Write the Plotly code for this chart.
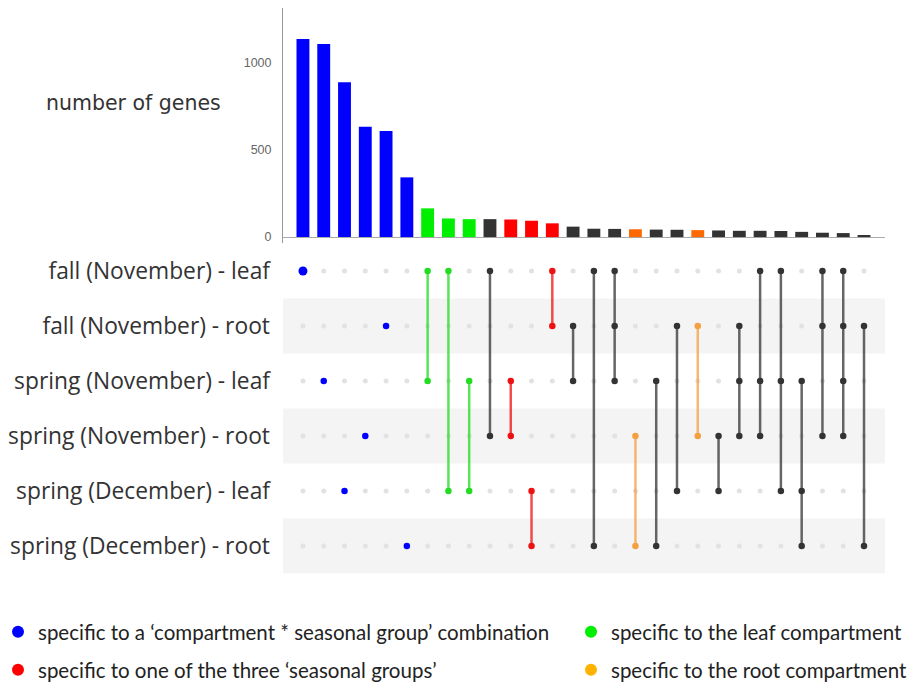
import plotly.graph_objects as go

# ---------------- data ----------------
sets = ["fall (November) - leaf", "fall (November) - root",
        "spring (November) - leaf", "spring (November) - root",
        "spring (December) - leaf", "spring (December) - root"]

members = [[0], [2], [4], [3], [1], [5],
           [0, 2], [0, 4], [2, 4], [0, 3], [2, 3], [4, 5], [0, 1], [1, 2],
           [0, 5], [0, 1, 2], [3, 5], [2, 5], [1, 4], [1, 3], [3, 4],
           [1, 2, 3], [0, 2, 3], [0, 2, 4], [2, 4, 5], [0, 1, 3],
           [0, 1, 2, 3], [1, 5]]

counts = [1138, 1109, 889, 634, 609, 343, 165, 107, 103, 103, 101, 94, 79,
          60, 48, 47, 45, 43, 42, 40, 38, 36, 36, 35, 30, 25, 23, 12]

groups = (["combo"] * 6 + ["leaf"] * 3 + ["other"] + ["season"] * 3 +
          ["other", "other", "other", "root", "other", "other", "root"] +
          ["other"] * 8 + ["root"])

legend_labels = {
    "combo": "specific to a \u2018compartment * seasonal group\u2019 combination",
    "leaf": "specific to the leaf compartment",
    "season": "specific to one of the three \u2018seasonal groups\u2019",
    "root": "specific to the root compartment",
}
legend_order = ["combo", "leaf", "season", "root"]

bar_tickvals = [0, 500, 1000]

# ---------------- styles ----------------
bar_colors = {"combo": "#0000FF", "leaf": "#00EE00", "season": "#FF0000",
              "other": "#333333", "root": "#FF6A00"}
dot_colors = {"combo": "#0000FF", "leaf": "#22DD22", "season": "#EE1111",
              "other": "#333333", "root": "#F5A040"}
legend_colors = {"combo": "#0000FF", "leaf": "#00EE00", "season": "#FF0000",
                 "root": "#FFB300"}

W, H = 916, 685
def px_x(p): return p / W
def px_y(p): return 1 - p / H

n = len(counts)
xs = list(range(n))

fig = go.Figure()

# bars
fig.add_trace(go.Bar(
    x=xs, y=counts, width=0.62,
    marker=dict(color=[bar_colors[g] for g in groups], line=dict(width=0)),
    xaxis="x", yaxis="y", showlegend=False, hoverinfo="y"))

# inactive dots
ix, iy = [], []
for c, mem in enumerate(members):
    for r in range(len(sets)):
        if r not in mem:
            ix.append(c)
            iy.append(r)
fig.add_trace(go.Scatter(
    x=ix, y=iy, mode="markers", xaxis="x2", yaxis="y2",
    marker=dict(color="#e2e2e2", size=5), showlegend=False, hoverinfo="skip"))

# active lines and dots
for c, mem in enumerate(members):
    col = dot_colors[groups[c]]
    if len(mem) > 1:
        fig.add_trace(go.Scatter(
            x=[c, c], y=[min(mem), max(mem)], mode="lines",
            xaxis="x2", yaxis="y2", opacity=0.75,
            line=dict(color=col, width=2.5), showlegend=False, hoverinfo="skip"))
    fig.add_trace(go.Scatter(
        x=[c] * len(mem), y=mem, mode="markers", xaxis="x2", yaxis="y2",
        marker=dict(color=col, size=9 if c == 0 else 6.5),
        showlegend=False, hoverinfo="skip"))

# legend entries (four independent legends)
legend_pos = {"combo": (-2, 632), "leaf": (571, 632),
              "season": (-2, 670), "root": (571, 670)}
legend_names = {"combo": "legend", "leaf": "legend2",
                "season": "legend3", "root": "legend4"}
for g in legend_order:
    fig.add_trace(go.Scatter(
        x=[None], y=[None], mode="markers", name=legend_labels[g],
        marker=dict(color=legend_colors[g], size=11),
        legend=legend_names[g], xaxis="x", yaxis="y"))

# stripes
shapes = []
for r in range(len(sets)):
    if r % 2 == 1:
        shapes.append(dict(type="rect", xref="x2 domain", yref="y2",
                           x0=0, x1=1, y0=r - 0.5, y1=r + 0.5,
                           fillcolor="#f4f4f4", line=dict(width=0),
                           layer="below"))

xr = [-0.96, 28.01]
legend_font = dict(family="Lato", size=20.5, color="#222222")
leg = {}
for g in legend_order:
    lx, ly = legend_pos[g]
    leg[legend_names[g]] = dict(x=px_x(lx), y=px_y(ly), xanchor="left",
                                yanchor="middle", font=legend_font,
                                bgcolor="rgba(0,0,0,0)", itemsizing="constant")

fig.update_layout(
    width=W, height=H, margin=dict(l=0, r=0, t=0, b=0, autoexpand=False),
    paper_bgcolor="white", plot_bgcolor="rgba(0,0,0,0)",
    bargap=0.3, shapes=shapes,
    xaxis=dict(domain=[px_x(283), px_x(885)], range=xr, visible=False),
    yaxis=dict(domain=[px_y(243), px_y(8)], range=[-34, 1316],
               tickvals=bar_tickvals, ticktext=[str(v) for v in bar_tickvals],
               showgrid=False, showline=True, linecolor="#999999", linewidth=1,
               zeroline=True, zerolinecolor="#aaaaaa", zerolinewidth=1,
               ticks="", ticklabelstandoff=8, automargin=False,
               tickfont=dict(family="Liberation Sans", size=12.5, color="#666666")),
    xaxis2=dict(domain=[px_x(283), px_x(885)], range=xr, visible=False,
                anchor="y2"),
    yaxis2=dict(domain=[px_y(573.5), px_y(243.5)], range=[5.5, -0.5],
                tickvals=list(range(len(sets))), ticktext=sets,
                showgrid=False, zeroline=False, showline=False, ticks="",
                ticklabelstandoff=12, anchor="x2", automargin=False,
                tickfont=dict(family="Open Sans", size=22.8, color="#333333")),
    annotations=[dict(text="number of genes", xref="paper", yref="paper",
                      x=px_x(44), y=px_y(103), xanchor="left", yanchor="middle",
                      showarrow=False,
                      font=dict(family="DejaVu Sans", size=20.5, color="#333333"))],
    **leg,
)

fig.write_html("out.html", config={"displayModeBar": False},
               post_script="document.body.style.margin='0';"
                           "document.body.style.overflow='hidden';")
